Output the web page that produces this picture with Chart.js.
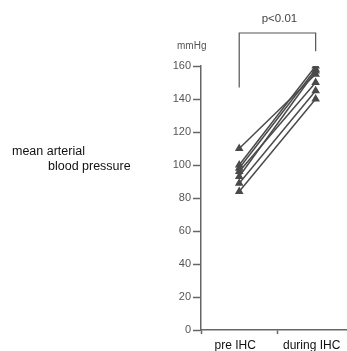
<!DOCTYPE html>
<html>
<head>
<meta charset="utf-8">
<script src="https://cdn.jsdelivr.net/npm/chart.js@4"></script>
<style>
  html, body { margin: 0; padding: 0; background: #fff; }
  #wrap { width: 347px; height: 351px; }
</style>
</head>
<body>
<div id="wrap"><canvas id="chart" width="347" height="351"></canvas></div>
<script>
const xLabels = ["pre IHC", "during IHC"];
const preIHC = [110, 100, 98, 96, 93, 89, 84];
const duringIHC = [155, 160, 158, 150, 157, 145, 140];
const yTicks = [0, 20, 40, 60, 80, 100, 120, 140, 160];

const lineColor = "#4a4a4a";
const axisColor = "#666";
const textColor = "#555";
const font = "'Liberation Sans', Arial, sans-serif";

const datasets = preIHC.map((p, i) => ({
    data: [{ x: 0, y: p }, { x: 1, y: duringIHC[i] }],
    borderColor: lineColor,
    backgroundColor: lineColor,
    borderWidth: 1.5,
    pointStyle: "triangle",
    pointRadius: 3.5,
    showLine: true
}));

/* ---------- extra text + bracket ---------- */
const extras = {
    id: "extras",
    afterDraw(chart) {
        const { ctx, scales } = chart;
        const x0 = scales.x.getPixelForValue(0);
        const x1 = scales.x.getPixelForValue(1);
        const yTop = scales.y.getPixelForValue(180);
        ctx.save();
        // bracket
        ctx.strokeStyle = "#555";
        ctx.lineWidth = 1.2;
        ctx.beginPath();
        ctx.moveTo(x0, scales.y.getPixelForValue(147));
        ctx.lineTo(x0, yTop);
        ctx.lineTo(x1, yTop);
        ctx.lineTo(x1, scales.y.getPixelForValue(169));
        ctx.stroke();

        ctx.fillStyle = "#444";
        ctx.font = "11.5px " + font;
        ctx.textAlign = "center";
        ctx.textBaseline = "middle";
        ctx.fillText("p<0.01", (x0 + x1) / 2 + 2, 19);

        ctx.fillStyle = textColor;
        ctx.font = "10px " + font;
        ctx.textAlign = "left";
        ctx.fillText("mmHg", 177, 46);

        ctx.fillStyle = "#111";
        ctx.font = "12.5px " + font;
        ctx.fillText("mean arterial", 12, 152);
        ctx.fillText("blood pressure", 48, 167);
        ctx.restore();
    }
};

new Chart(document.getElementById("chart").getContext("2d"), {
    type: "scatter",
    data: { datasets },
    options: {
        responsive: false,
        animation: false,
        layout: { autoPadding: false, padding: { top: 66, right: 0, bottom: 0, left: 0 } },
        plugins: { legend: { display: false }, tooltip: { enabled: false } },
        scales: {
            x: {
                type: "linear",
                min: -0.5,
                max: 1.41,
                afterBuildTicks: scale => {
                    scale.ticks = [-0.5, 0, 0.5, 1].map(v => ({ value: v }));
                },
                afterFit: scale => {
                    scale.height = 21;
                    scale.paddingRight = 0;
                    scale.paddingLeft = 0;
                },
                grid: {
                    drawOnChartArea: false,
                    tickLength: 4,
                    tickColor: c => (c.tick && c.tick.value % 1 === 0) ? "rgba(0,0,0,0)" : axisColor,
                    tickWidth: 1.5
                },
                border: { color: axisColor, width: 1.5 },
                ticks: {
                    autoSkip: false,
                    maxRotation: 0,
                    padding: 4,
                    labelOffset: -4,
                    color: "#111",
                    font: { family: font, size: 12 },
                    callback: v => (v === 0 ? xLabels[0] : v === 1 ? xLabels[1] : "")
                }
            },
            y: {
                min: 0,
                max: 160,
                afterBuildTicks: scale => {
                    scale.ticks = yTicks.map(v => ({ value: v }));
                },
                afterFit: scale => { scale.width = 201; },
                grid: {
                    drawOnChartArea: false,
                    tickLength: 8,
                    tickColor: axisColor,
                    tickWidth: 1.5
                },
                border: { color: axisColor, width: 1.5 },
                ticks: {
                    padding: 2,
                    color: textColor,
                    font: { family: font, size: 11 }
                }
            }
        }
    },
    plugins: [extras]
});
</script>
</body>
</html>
